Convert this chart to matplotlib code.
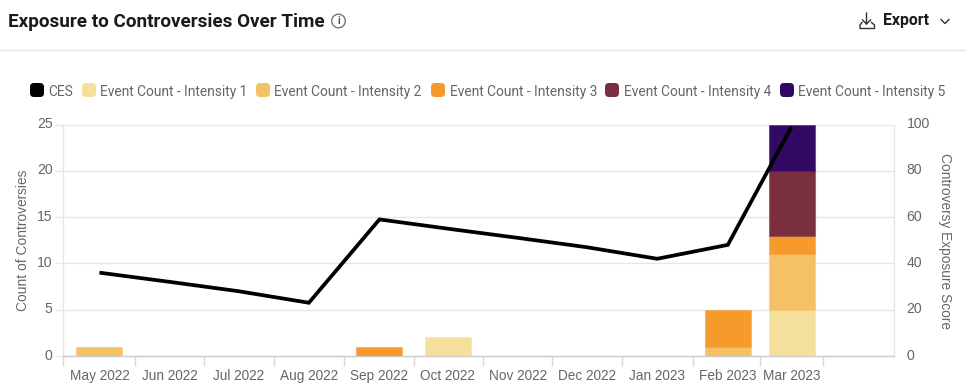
import datetime as dt

import matplotlib
matplotlib.use("Agg")
import matplotlib.dates as mdates
import matplotlib.pyplot as plt
import numpy as np
from matplotlib.colors import to_rgba
from matplotlib.patches import Circle, FancyBboxPatch
from matplotlib.transforms import ScaledTranslation

months = [dt.date(2022, 5, 1), dt.date(2022, 6, 1), dt.date(2022, 7, 1), dt.date(2022, 8, 1),
          dt.date(2022, 9, 1), dt.date(2022, 10, 1), dt.date(2022, 11, 1), dt.date(2022, 12, 1),
          dt.date(2023, 1, 1), dt.date(2023, 2, 1), dt.date(2023, 3, 1)]
month_labels = ["May 2022", "Jun 2022", "Jul 2022", "Aug 2022", "Sep 2022", "Oct 2022",
                "Nov 2022", "Dec 2022", "Jan 2023", "Feb 2023", "Mar 2023"]

intensity_1 = [0, 0, 0, 0, 0, 2, 0, 0, 0, 0, 5]
intensity_2 = [1, 0, 0, 0, 0, 0, 0, 0, 0, 1, 6]
intensity_3 = [0, 0, 0, 0, 1, 0, 0, 0, 0, 4, 2]
intensity_4 = [0, 0, 0, 0, 0, 0, 0, 0, 0, 0, 7]
intensity_5 = [0, 0, 0, 0, 0, 0, 0, 0, 0, 0, 5]
ces = [36, 32, 28, 23, 59, 55, 51, 47, 42, 48, 99]

bar_colors = ["#F4E09C", "#F4C167", "#F69A2B", "#7A2F3F", "#330A63"]
legend_labels = ["CES", "Event Count - Intensity 1", "Event Count - Intensity 2",
                 "Event Count - Intensity 3", "Event Count - Intensity 4", "Event Count - Intensity 5"]
legend_colors = ["#000000"] + bar_colors
legend_x = [30, 82, 256, 431, 605, 780]

GRID = "#E6E6E6"
TEXT = "#666666"
SANS = "Liberation Sans"

fig = plt.figure(figsize=(9.66, 3.92), dpi=100, facecolor="white")

# everything outside the plot is laid out in pixels
page = fig.add_axes([0, 0, 1, 1])
page.set_xlim(0, 966)
page.set_ylim(392, 0)
page.axis("off")

ax = fig.add_axes([63 / 966, (392 - 356) / 392, 831 / 966, 231.5 / 392])
ax.patch.set_alpha(0)

x = mdates.date2num(months)
bottom = np.zeros(len(x))
for values, color in zip([intensity_1, intensity_2, intensity_3, intensity_4, intensity_5], bar_colors):
    values = np.array(values)
    keep = values > 0  # empty segments would still draw an edge
    ax.bar(x[keep], values[keep], width=20.2, bottom=bottom[keep], color=color,
           edgecolor=to_rgba(color, 0.45), linewidth=0.8, zorder=3)
    bottom += values

ax.set_xlim(mdates.date2num(dt.date(2022, 4, 15)), mdates.date2num(dt.date(2023, 4, 15)))
ax.set_ylim(0, 25)
ax.set_yticks([0, 5, 10, 15, 20, 25])
ax.set_xticks(x)
ax.set_xticklabels(month_labels)
# tick marks sit halfway between the months
edges = (x[:-1] + x[1:]) / 2
edges = np.concatenate([[ax.get_xlim()[0]], edges, [x[-1] + 14]])
ax.set_xticks(edges, minor=True)
ax.tick_params(axis="x", which="major", length=0, pad=9.5, labelsize=9.8, labelcolor=TEXT)
ax.tick_params(axis="x", which="minor", length=7.5, width=1, color="#D9D9D9")
ax.tick_params(axis="y", length=6, width=1, color=GRID, pad=1.5, labelsize=10.1, labelcolor=TEXT)
ax.yaxis.grid(True, color=GRID, linewidth=1)
ax.set_axisbelow(True)
for name, spine in ax.spines.items():
    spine.set_color("#CCCCCC" if name == "bottom" else GRID)
    spine.set_linewidth(1)
ax.spines["top"].set_visible(False)

right = ax.twinx()
right.plot(x, ces, color="black", linewidth=2.7, solid_joinstyle="miter", solid_capstyle="butt", zorder=5)
right.set_ylim(0, 100)
right.set_yticks([0, 20, 40, 60, 80, 100])
right.tick_params(axis="y", length=0, pad=9, labelsize=10.1, labelcolor=TEXT)
for spine in right.spines.values():
    spine.set_visible(False)

# y labels sit a little above their grid lines in the reference
nudge = ScaledTranslation(0, 2 / 100, fig.dpi_scale_trans)
for label in ax.get_xticklabels():
    label.set_family(SANS)
for label in ax.get_yticklabels() + right.get_yticklabels():
    label.set_family(SANS)
    label.set_transform(label.get_transform() + nudge)

page.text(23, 240, "Count of Controversies", rotation=90, ha="center", va="center",
          family=SANS, fontsize=9.9, color=TEXT)
page.text(945, 240.5, "Controversy Exposure Score", rotation=270, ha="center", va="center",
          family=SANS, fontsize=9.9, color=TEXT)

# header
page.text(8, 22, "Exposure to Controversies Over Time", ha="left", va="center",
          family="Roboto", fontweight="bold", fontsize=13.6, color="#1A1A1A")
page.plot([0, 966], [49.5, 49.5], color="#E4E4E4", linewidth=1)
page.add_patch(Circle((338.5, 21), 6.8, facecolor="none", edgecolor="#777777", linewidth=1))
page.text(338.5, 21.3, "i", ha="center", va="center", family="Roboto", fontweight="bold", fontsize=7.5, color="#555555")
page.text(883.5, 20.5, "Export", ha="left", va="center",
          family="Roboto", fontweight="bold", fontsize=11.4, color="#1A1A1A")

# download icon
page.plot([866.5, 866.5, 862.5], [13, 24, 20], color="#333333", linewidth=1)
page.plot([866.5, 870.5], [24, 20], color="#333333", linewidth=1)
page.plot([862, 860, 860, 874.5, 874.5, 871.5], [22.5, 25, 28.5, 28.5, 25, 22.5], color="#333333", linewidth=1)
# chevron
page.plot([941, 945, 949], [19.5, 23.5, 19.5], color="#333333", linewidth=1)

# legend
for left, label, color in zip(legend_x, legend_labels, legend_colors):
    page.add_patch(FancyBboxPatch((left + 2, 85), 10, 10, boxstyle="round,pad=2,rounding_size=4",
                                  facecolor=color, edgecolor="none"))
    page.text(left + 18.5, 92, label, ha="left", va="center", family="Roboto", fontsize=9.9, color=TEXT)

fig.savefig("out.png", dpi=100)
